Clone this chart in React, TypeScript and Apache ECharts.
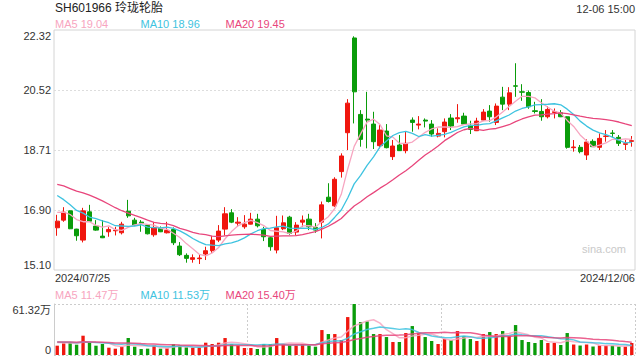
import React, { useEffect, useRef } from 'react';
import * as echarts from 'echarts';

// ---- data ----
const dates = [
  '2024/07/25', '2024/07/26', '2024/07/29', '2024/07/30', '2024/07/31',
  '2024/08/01', '2024/08/02', '2024/08/05', '2024/08/06', '2024/08/07', '2024/08/08', '2024/08/09',
  '2024/08/12', '2024/08/13', '2024/08/14', '2024/08/15', '2024/08/16', '2024/08/19', '2024/08/20',
  '2024/08/21', '2024/08/22', '2024/08/23', '2024/08/26', '2024/08/27', '2024/08/28', '2024/08/29', '2024/08/30',
  '2024/09/02', '2024/09/03', '2024/09/04', '2024/09/05', '2024/09/06', '2024/09/09', '2024/09/10',
  '2024/09/11', '2024/09/12', '2024/09/13', '2024/09/18', '2024/09/19', '2024/09/20', '2024/09/23',
  '2024/09/24', '2024/09/25', '2024/09/26', '2024/09/27', '2024/09/30',
  '2024/10/08', '2024/10/09', '2024/10/10', '2024/10/11', '2024/10/14', '2024/10/15', '2024/10/16',
  '2024/10/17', '2024/10/18', '2024/10/21', '2024/10/22', '2024/10/23', '2024/10/24', '2024/10/25',
  '2024/10/28', '2024/10/29', '2024/10/30', '2024/10/31',
  '2024/11/01', '2024/11/04', '2024/11/05', '2024/11/06', '2024/11/07', '2024/11/08', '2024/11/11',
  '2024/11/12', '2024/11/13', '2024/11/14', '2024/11/15', '2024/11/18', '2024/11/19', '2024/11/20',
  '2024/11/21', '2024/11/22', '2024/11/25', '2024/11/26', '2024/11/27', '2024/11/28', '2024/11/29',
  '2024/12/02', '2024/12/03', '2024/12/04', '2024/12/05', '2024/12/06',
];

const opens = [
  16.37, 16.60, 16.88, 16.33, 16.00, 16.85, 16.42, 16.12, 16.25, 16.28,
  16.22, 16.87, 16.60, 16.54, 16.45, 16.16, 16.35, 16.22, 16.32, 15.82,
  15.54, 15.42, 15.44, 15.58, 15.68, 16.00, 16.33, 16.82, 16.51, 16.40,
  16.48, 16.63, 16.32, 16.07, 15.70, 16.34, 16.69, 16.24, 16.54, 16.63,
  16.38, 16.54, 17.29, 17.03, 18.06, 19.23, 22.08, 19.78, 19.64, 19.49,
  18.84, 19.28, 18.51, 18.86, 18.69, 19.61, 19.46, 19.61, 19.49, 19.13,
  19.26, 19.67, 19.65, 19.73, 19.45, 19.29, 19.61, 19.88, 19.54, 20.30,
  20.09, 20.64, 20.46, 20.44, 19.89, 19.87, 19.71, 19.84, 19.83, 19.71,
  18.78, 18.79, 18.56, 18.97, 18.79, 19.12, 19.22, 19.09, 18.88, 18.97,
];
const closes = [
  16.57, 16.84, 16.34, 16.13, 16.88, 16.57, 16.30, 16.07, 16.32, 16.30,
  16.48, 16.73, 16.45, 16.51, 16.19, 16.38, 16.25, 16.29, 15.92, 15.56,
  15.45, 15.47, 15.46, 15.68, 16.00, 16.27, 16.79, 16.54, 16.54, 16.48,
  16.63, 16.43, 16.10, 15.80, 16.37, 16.52, 16.20, 16.45, 16.60, 16.40,
  16.30, 17.06, 17.16, 17.83, 18.53, 20.12, 20.46, 19.03, 19.61, 18.96,
  19.31, 18.78, 18.83, 18.69, 18.91, 19.54, 19.49, 19.58, 19.19, 19.21,
  19.55, 19.43, 19.68, 19.49, 19.33, 19.58, 19.85, 19.71, 20.03, 20.09,
  20.43, 20.63, 20.45, 20.01, 19.87, 19.71, 19.93, 19.86, 19.71, 18.79,
  18.80, 18.66, 18.95, 18.81, 19.06, 19.13, 19.21, 18.91, 18.90, 18.99,
];
const lows = [
  16.13, 16.55, 16.33, 15.98, 15.93, 16.56, 16.28, 16.06, 16.10, 16.14,
  16.17, 16.67, 16.42, 16.25, 16.17, 16.10, 16.24, 16.20, 15.85, 15.52,
  15.32, 15.32, 15.28, 15.40, 15.62, 15.94, 16.14, 16.51, 16.40, 16.34,
  16.47, 16.38, 15.97, 15.68, 15.60, 16.30, 16.16, 16.14, 16.40, 16.30,
  16.22, 16.05, 17.13, 17.00, 17.88, 18.71, 19.51, 18.81, 18.76, 18.74,
  18.76, 18.76, 18.41, 18.68, 18.61, 19.26, 19.33, 19.39, 19.11, 19.09,
  19.09, 19.31, 19.53, 19.48, 19.19, 19.28, 19.58, 19.56, 19.46, 19.91,
  19.91, 20.31, 20.19, 19.95, 19.81, 19.59, 19.66, 19.66, 19.70, 18.75,
  18.66, 18.61, 18.41, 18.80, 18.71, 18.96, 19.09, 18.83, 18.71, 18.81,
];
const highs = [
  16.76, 16.99, 16.89, 16.34, 16.97, 17.06, 16.60, 16.60, 16.39, 16.40,
  16.55, 17.21, 16.67, 16.60, 16.46, 16.54, 16.41, 16.55, 16.38, 15.94,
  15.60, 15.57, 15.57, 15.80, 16.12, 16.45, 16.99, 16.93, 16.69, 16.75,
  16.82, 16.79, 16.40, 16.12, 16.73, 16.74, 16.73, 16.54, 16.74, 16.79,
  16.51, 17.16, 17.71, 17.89, 18.61, 20.24, 22.13, 19.91, 20.46, 19.86,
  19.46, 19.49, 19.01, 19.16, 19.26, 19.69, 19.73, 19.66, 19.61, 19.36,
  19.66, 19.79, 20.09, 19.83, 19.59, 19.68, 19.94, 20.06, 20.11, 20.61,
  20.60, 21.32, 20.69, 20.50, 20.16, 20.24, 20.03, 19.96, 19.91, 19.72,
  19.01, 18.86, 19.03, 19.03, 19.21, 19.31, 19.31, 19.16, 19.01, 19.13,
];
// volume in 万 (10k shares)
const volumes = [
  11.2, 14.0, 15.2, 12.4, 23.2, 14.8, 11.2, 13.2, 8.8, 7.6,
  10.0, 20.4, 10.0, 7.2, 7.6, 12.0, 7.6, 8.0, 13.2, 11.6,
  9.2, 8.8, 8.8, 14.8, 13.2, 14.8, 20.4, 13.2, 11.6, 8.4,
  8.4, 7.2, 13.2, 13.2, 20.4, 13.2, 11.6, 11.6, 13.2, 11.6,
  10.0, 30.0, 25.2, 25.2, 18.0, 45.6, 61.32, 39.6, 40.4, 25.2,
  25.2, 21.6, 15.6, 15.6, 26.4, 34.8, 26.4, 21.6, 16.8, 13.2,
  19.2, 18.0, 28.8, 22.8, 19.2, 16.8, 25.2, 27.6, 25.2, 28.8,
  22.8, 36.0, 18.0, 15.6, 14.4, 18.0, 14.4, 14.4, 12.0, 26.4,
  12.6, 11.4, 12.6, 10.2, 11.4, 11.4, 11.4, 10.2, 10.0, 14.4,
];
// sessions before the visible window (needed for the moving averages at the left edge)
const priorCloses = [
  17.8, 17.9, 17.7, 17.85, 18.0, 17.9, 17.95, 18.3, 18.4, 18.3,
  18.1, 17.9, 17.8, 17.7, 17.75, 16.8, 16.7, 16.9, 17.2,
];
const priorVolumes = [
  16.8, 14.2, 17.5, 15.0, 18.6, 13.9, 16.2, 15.4, 17.8, 14.6,
  16.0, 15.2, 18.2, 14.0, 16.6, 15.8, 17.0, 14.8, 16.4,
];

const priceMin = 15.1;
const priceMax = 22.32;
const priceStep = 1.805;
const priceTickLabels = ['15.10', '16.90', '18.71', '20.52', '22.32'];
const volumeMax = 61.32;
const volumeTickLabels = ['0', '61.32万'];

const titleText = 'SH601966 玲珑轮胎';
const timeText = '12-06 15:00';
const priceLegend = ['MA5 19.04', 'MA10 18.96', 'MA20 19.45'];
const volumeLegend = ['MA5 11.47万', 'MA10 11.53万', 'MA20 15.40万'];
const watermark = 'sina.com';

// ---- styles ----
const RED = '#f0160e';
const GREEN = '#0a9c0a';
const MA_COLORS = ['#f7a5c0', '#3ec3e0', '#e8467c'];
const FONT = 'Arial, "Liberation Sans", "Noto Sans CJK SC", sans-serif';

function movingAverage(prior: number[], values: number[], n: number): number[] {
  const all = prior.concat(values);
  const off = prior.length;
  return values.map((_, i) => {
    let s = 0;
    for (let k = 0; k < n; k++) s += all[off + i - k];
    return +(s / n).toFixed(3);
  });
}

export default function App() {
  const ref = useRef<HTMLDivElement>(null);

  useEffect(() => {
    if (!ref.current) return;
    const chart = echarts.init(ref.current, undefined, { renderer: 'svg' });

    const candleData = opens.map((o, i) => [o, closes[i], lows[i], highs[i]]);
    const volData = volumes.map((v, i) => ({
      value: v,
      itemStyle: { color: closes[i] >= opens[i] ? RED : GREEN },
    }));
    const periods = [5, 10, 20];

    const hiddenCat = (gridIndex: number) => ({
      type: 'category',
      gridIndex,
      data: dates,
      boundaryGap: true,
      axisLine: { show: false },
      axisTick: { show: false },
      axisLabel: { show: false },
      splitLine: { show: false },
    });

    const legendTexts = (labels: string[], y: number) =>
      labels.map((t, i) => ({
        type: 'text',
        x: [55, 140.5, 225.5][i],
        y,
        style: {
          text: t,
          fill: MA_COLORS[i],
          font: `11px ${FONT}`,
          align: 'left',
          verticalAlign: 'middle',
          textAlign: 'left',
          textVerticalAlign: 'middle',
        },
      }));

    const option: any = {
      animation: false,
      backgroundColor: '#ffffff',
      textStyle: { fontFamily: FONT },
      grid: [
        { left: 54, right: 5, top: 30, height: 240, show: true, borderColor: '#d4d4d4', borderWidth: 1, backgroundColor: 'transparent' },
        { left: 54, right: 5, top: 304, height: 51 },
      ],
      xAxis: [
        hiddenCat(0),
        hiddenCat(1),
        {
          type: 'value',
          gridIndex: 1,
          min: 0,
          max: 3,
          interval: 1,
          axisLine: { show: false },
          axisTick: { show: false },
          axisLabel: { show: false },
          splitLine: { show: true, showMinLine: false, lineStyle: { color: '#cccccc', type: [2, 2], width: 1 } },
        },
      ],
      yAxis: [
        {
          type: 'value',
          gridIndex: 0,
          min: priceMin,
          max: priceMax,
          interval: priceStep,
          axisLine: { show: false },
          axisTick: { show: false },
          axisLabel: {
            color: '#333',
            fontSize: 11,
            fontFamily: FONT,
            margin: 3,
            verticalAlignMinLabel: 'bottom',
            verticalAlignMaxLabel: 'top',
            formatter: (v: number) => priceTickLabels[Math.round((v - priceMin) / priceStep)] ?? '',
          },
          splitLine: { show: true, showMinLine: false, showMaxLine: false, lineStyle: { color: '#dddddd', type: [2, 2], width: 1 } },
        },
        {
          type: 'value',
          gridIndex: 1,
          min: 0,
          max: volumeMax,
          interval: volumeMax,
          axisLine: { show: true, lineStyle: { color: '#cccccc' } },
          axisTick: { show: false },
          axisLabel: {
            color: '#333',
            fontSize: 11,
            fontFamily: FONT,
            margin: 3,
            verticalAlignMinLabel: 'bottom',
            verticalAlignMaxLabel: 'top',
            formatter: (v: number) => (v === 0 ? volumeTickLabels[0] : volumeTickLabels[1]),
          },
          splitLine: { show: true, lineStyle: { color: '#cccccc', type: [2, 2], width: 1 } },
        },
      ],
      series: [
        {
          type: 'candlestick',
          xAxisIndex: 0,
          yAxisIndex: 0,
          data: candleData,
          barWidth: '72%',
          itemStyle: { color: RED, color0: GREEN, borderColor: RED, borderColor0: GREEN, borderWidth: 1 },
        },
        ...periods.map((n, i) => ({
          type: 'line',
          xAxisIndex: 0,
          yAxisIndex: 0,
          data: movingAverage(priorCloses, closes, n),
          showSymbol: false,
          symbol: 'none',
          lineStyle: { color: MA_COLORS[i], width: 1.3 },
          z: 3,
        })),
        {
          type: 'bar',
          xAxisIndex: 1,
          yAxisIndex: 1,
          data: volData,
          barWidth: '52%',
        },
        ...periods.map((n, i) => ({
          type: 'line',
          xAxisIndex: 1,
          yAxisIndex: 1,
          data: movingAverage(priorVolumes, volumes, n),
          showSymbol: false,
          symbol: 'none',
          lineStyle: { color: MA_COLORS[i], width: 1.5, opacity: 0.85 },
          z: 3,
        })),
      ],
      graphic: [
        {
          type: 'text',
          x: 55,
          y: 8,
          style: { text: titleText, fill: '#222', font: `12px ${FONT}`, align: 'left', verticalAlign: 'middle', textAlign: 'left', textVerticalAlign: 'middle' },
        },
        {
          type: 'text',
          x: 635,
          y: 9,
          style: { text: timeText, fill: '#333', font: `11px ${FONT}`, align: 'right', verticalAlign: 'middle', textAlign: 'right', textVerticalAlign: 'middle' },
        },
        ...legendTexts(priceLegend, 23.5),
        ...legendTexts(volumeLegend, 295),
        {
          type: 'text',
          x: 55,
          y: 277.5,
          style: { text: dates[0], fill: '#333', font: `11px ${FONT}`, align: 'left', verticalAlign: 'middle', textAlign: 'left', textVerticalAlign: 'middle' },
        },
        {
          type: 'text',
          x: 635,
          y: 277.5,
          style: { text: dates[dates.length - 1], fill: '#333', font: `11px ${FONT}`, align: 'right', verticalAlign: 'middle', textAlign: 'right', textVerticalAlign: 'middle' },
        },
        {
          type: 'text',
          x: 582,
          y: 249,
          style: { text: watermark, fill: '#c9c9c9', font: `11px ${FONT}`, align: 'left', verticalAlign: 'middle', textAlign: 'left', textVerticalAlign: 'middle' },
        },
      ],
    };

    chart.setOption(option);
    return () => chart.dispose();
  }, []);

  return (
    <div
      ref={ref}
      style={{ position: 'fixed', left: 0, top: 0, width: 640, height: 360, background: '#fff' }}
    />
  );
}
